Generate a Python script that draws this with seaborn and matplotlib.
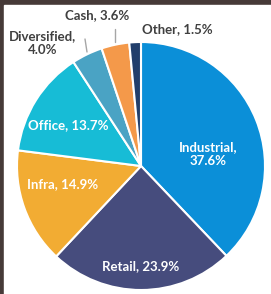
import matplotlib
matplotlib.use('Agg')
from matplotlib import pyplot as plt
from matplotlib.patches import Rectangle
import seaborn as sns

# data
sectors = ['Industrial', 'Retail', 'Infra', 'Office', 'Diversified', 'Cash', 'Other']
shares = [37.6, 23.9, 14.9, 13.7, 4.0, 3.6, 1.5]
colors = ['#0B8FD8', '#464C7D', '#F2AC33', '#17BCD6', '#4AA3C4', '#F4994A', '#213E6B']

sns.set_style('white')
plt.rcParams['font.family'] = ['Lato', 'DejaVu Sans']

W, H = 271, 294
fig = plt.figure(figsize=(W / 100, H / 100), dpi=100)
fig.patch.set_facecolor('#463A38')
fig.add_artist(Rectangle((4 / W, 0), 1, (H - 5) / H, transform=fig.transFigure,
                         color='white', zorder=-1))

# pie centre (141, 166) px, radius 124 px
cx, cy, r = 141, 166, 124
ax = fig.add_axes([(cx - r) / W, (H - cy - r) / H, 2 * r / W, 2 * r / H])
ax.pie(shares, colors=sns.color_palette(colors), startangle=90, counterclock=False,
       wedgeprops=dict(edgecolor='white', linewidth=1.5))
ax.set_xlim(-1, 1)
ax.set_ylim(-1, 1)
ax.axis('off')


def px(x, y):
    return (x - cx) / r, (cy - y) / r


def lab(i, x, y, color='white', ha='center'):
    name = sectors[i]
    txt = f'{name}, {shares[i]:.1f}%'
    if name in ('Industrial', 'Diversified'):
        txt = f'{name},\n{shares[i]:.1f}%'
    ax.text(*px(x, y), txt, color=color, ha=ha, va='center', fontsize=9.5,
            fontweight='bold', linespacing=1.25, clip_on=False)


lab(0, 208, 154)
lab(1, 141, 266)
lab(2, 63, 184)
lab(3, 68, 125)
lab(4, 43, 43, color='#404040')
lab(5, 97, 15, color='#404040')
lab(6, 177, 29, color='#404040')

# leader lines
for (x0, y0), (x1, y1) in [((85, 39), (87, 52)), ((115, 29), (115, 42))]:
    p0, p1 = px(x0, y0), px(x1, y1)
    ax.plot([p0[0], p1[0]], [p0[1], p1[1]], color='#A6A6A6', lw=1, clip_on=False)

plt.savefig('out.png', dpi=100, facecolor=fig.get_facecolor())
